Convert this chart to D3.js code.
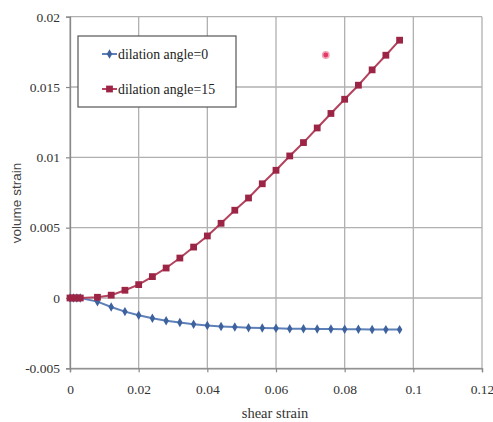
<!DOCTYPE html>
<html><head><meta charset="utf-8">
<script src="https://cdn.jsdelivr.net/npm/d3@7"></script>
<style>html,body{margin:0;padding:0;background:#fff;}svg{display:block;}</style>
</head><body>
<svg id="chart" width="493" height="422"></svg>
<script>
// ---- data ----
const shearStrain = [0, 0.001, 0.002, 0.003, 0.008, 0.012, 0.016, 0.02, 0.024, 0.028, 0.032, 0.036, 0.04, 0.044, 0.048, 0.052, 0.056, 0.06, 0.064, 0.068, 0.072, 0.076, 0.08, 0.084, 0.088, 0.092, 0.096];
const volAngle0 = [0, 0, 0, 0, -0.00026, -0.00064, -0.00097, -0.00123, -0.00144, -0.00162, -0.00175, -0.00186, -0.00195, -0.00202, -0.00207, -0.00211, -0.00214, -0.00216, -0.00218, -0.00219, -0.0022, -0.00221, -0.00222, -0.00223, -0.00224, -0.00225, -0.00225];
const volAngle15 = [0, 0, 0, 0, 0.00005, 0.0002, 0.00055, 0.00095, 0.00152, 0.00213, 0.00284, 0.00362, 0.00441, 0.00531, 0.00624, 0.00711, 0.00812, 0.00908, 0.0101, 0.01105, 0.01209, 0.01312, 0.01413, 0.01513, 0.01622, 0.01726, 0.01833];
const strayPoint = [[0.0745, 0.01728]];
const xTicks = [0, 0.02, 0.04, 0.06, 0.08, 0.1, 0.12];
const yTicks = [-0.005, 0, 0.005, 0.01, 0.015, 0.02];
const seriesNames = ["dilation angle=0", "dilation angle=15"];

// ---- chart ----
const svg = d3.select("#chart");
const x = d3.scaleLinear().domain([0, 0.12]).range([70, 482]);
const y = d3.scaleLinear().domain([-0.005, 0.02]).range([368.3, 16.7]);
const serif = "Liberation Serif, Tinos, Times New Roman, serif";
const gridColor = "#b0b0b0";

// gridlines
svg.append("g").selectAll("line").data(xTicks).join("line")
  .attr("x1", d => x(d)).attr("x2", d => x(d))
  .attr("y1", y(0.02)).attr("y2", y(-0.005))
  .attr("stroke", gridColor).attr("stroke-width", 1.3);
svg.append("g").selectAll("line").data(yTicks).join("line")
  .attr("x1", x(0)).attr("x2", x(0.12))
  .attr("y1", d => y(d)).attr("y2", d => y(d))
  .attr("stroke", gridColor).attr("stroke-width", 1.3);

// axes
const yAxis = d3.axisLeft(y).tickValues(yTicks).tickSize(4).tickPadding(6)
  .tickFormat(d => String(+d.toFixed(3)));
const gy = svg.append("g").attr("transform", `translate(${x(0)},0)`).call(yAxis);
const xAxis = d3.axisBottom(x).tickValues(xTicks).tickSize(4).tickPadding(12)
  .tickFormat(d => String(+d.toFixed(2)));
const gx = svg.append("g").attr("transform", `translate(0,${y(-0.005)})`).call(xAxis);
[gx, gy].forEach(g => {
  g.attr("font-family", null).attr("font-size", null);
  g.select(".domain").attr("stroke", "#888").attr("stroke-width", 1.3);
  g.selectAll(".tick line").attr("stroke", "#888").attr("stroke-width", 1.2);
  g.selectAll("text").style("font-family", serif).style("font-size", "13.5px").attr("fill", "#333");
});

// axis titles
svg.append("text").attr("x", 275).attr("y", 418).attr("text-anchor", "middle")
  .style("font-family", serif).style("font-size", "14.5px").attr("fill", "#333").text("shear strain");
svg.append("text").attr("transform", "translate(21,203) rotate(-90)").attr("text-anchor", "middle")
  .style("font-family", "Liberation Sans, Arial, sans-serif").style("font-size", "13.5px").attr("fill", "#444").text("volume strain");

// series
const blueLine = "#5e80b8", blueMark = "#3d629e";
const redLine = "#b3435f", redMark = "#9c2444";
const line = d3.line().x(d => x(d[0])).y(d => y(d[1]));
const d0 = shearStrain.map((s, i) => [s, volAngle0[i]]);
const d15 = shearStrain.map((s, i) => [s, volAngle15[i]]);

svg.append("path").datum(d0).attr("d", line).attr("fill", "none").attr("stroke", blueLine).attr("stroke-width", 2);
svg.append("path").datum(d15).attr("d", line).attr("fill", "none").attr("stroke", redLine).attr("stroke-width", 2);

const diamond = d3.symbol().type(d3.symbolDiamond).size(26);
const square = d3.symbol().type(d3.symbolSquare).size(46);
svg.append("g").selectAll("path").data(d0).join("path")
  .attr("transform", d => `translate(${x(d[0])},${y(d[1])})`).attr("d", diamond).attr("fill", blueMark);
svg.append("g").selectAll("path").data(d15).join("path")
  .attr("transform", d => `translate(${x(d[0])},${y(d[1])})`).attr("d", square).attr("fill", redMark);

svg.append("g").selectAll("circle").data(strayPoint).join("circle")
  .attr("cx", d => x(d[0])).attr("cy", d => y(d[1])).attr("r", 3.2)
  .attr("fill", "#e23a66").attr("stroke", "#f3a5b8").attr("stroke-width", 1.5);

// legend
const lg = svg.append("g");
lg.append("rect").attr("x", 78).attr("y", 36).attr("width", 158).attr("height", 71)
  .attr("fill", "#fff").attr("stroke", "#555").attr("stroke-width", 1.2);
const legendItems = [
  {name: seriesNames[0], yy: 54, lc: blueLine, mc: blueMark, sym: diamond},
  {name: seriesNames[1], yy: 89, lc: redLine, mc: redMark, sym: square}
];
legendItems.forEach(it => {
  lg.append("line").attr("x1", 102).attr("x2", 117).attr("y1", it.yy).attr("y2", it.yy)
    .attr("stroke", it.lc).attr("stroke-width", 2);
  lg.append("path").attr("transform", `translate(109.5,${it.yy})`).attr("d", it.sym).attr("fill", it.mc);
  lg.append("text").attr("x", 118).attr("y", it.yy).attr("dy", "0.35em")
    .style("font-family", serif).style("font-size", "13.8px").attr("fill", "#222").text(it.name);
});
</script>
</body></html>
